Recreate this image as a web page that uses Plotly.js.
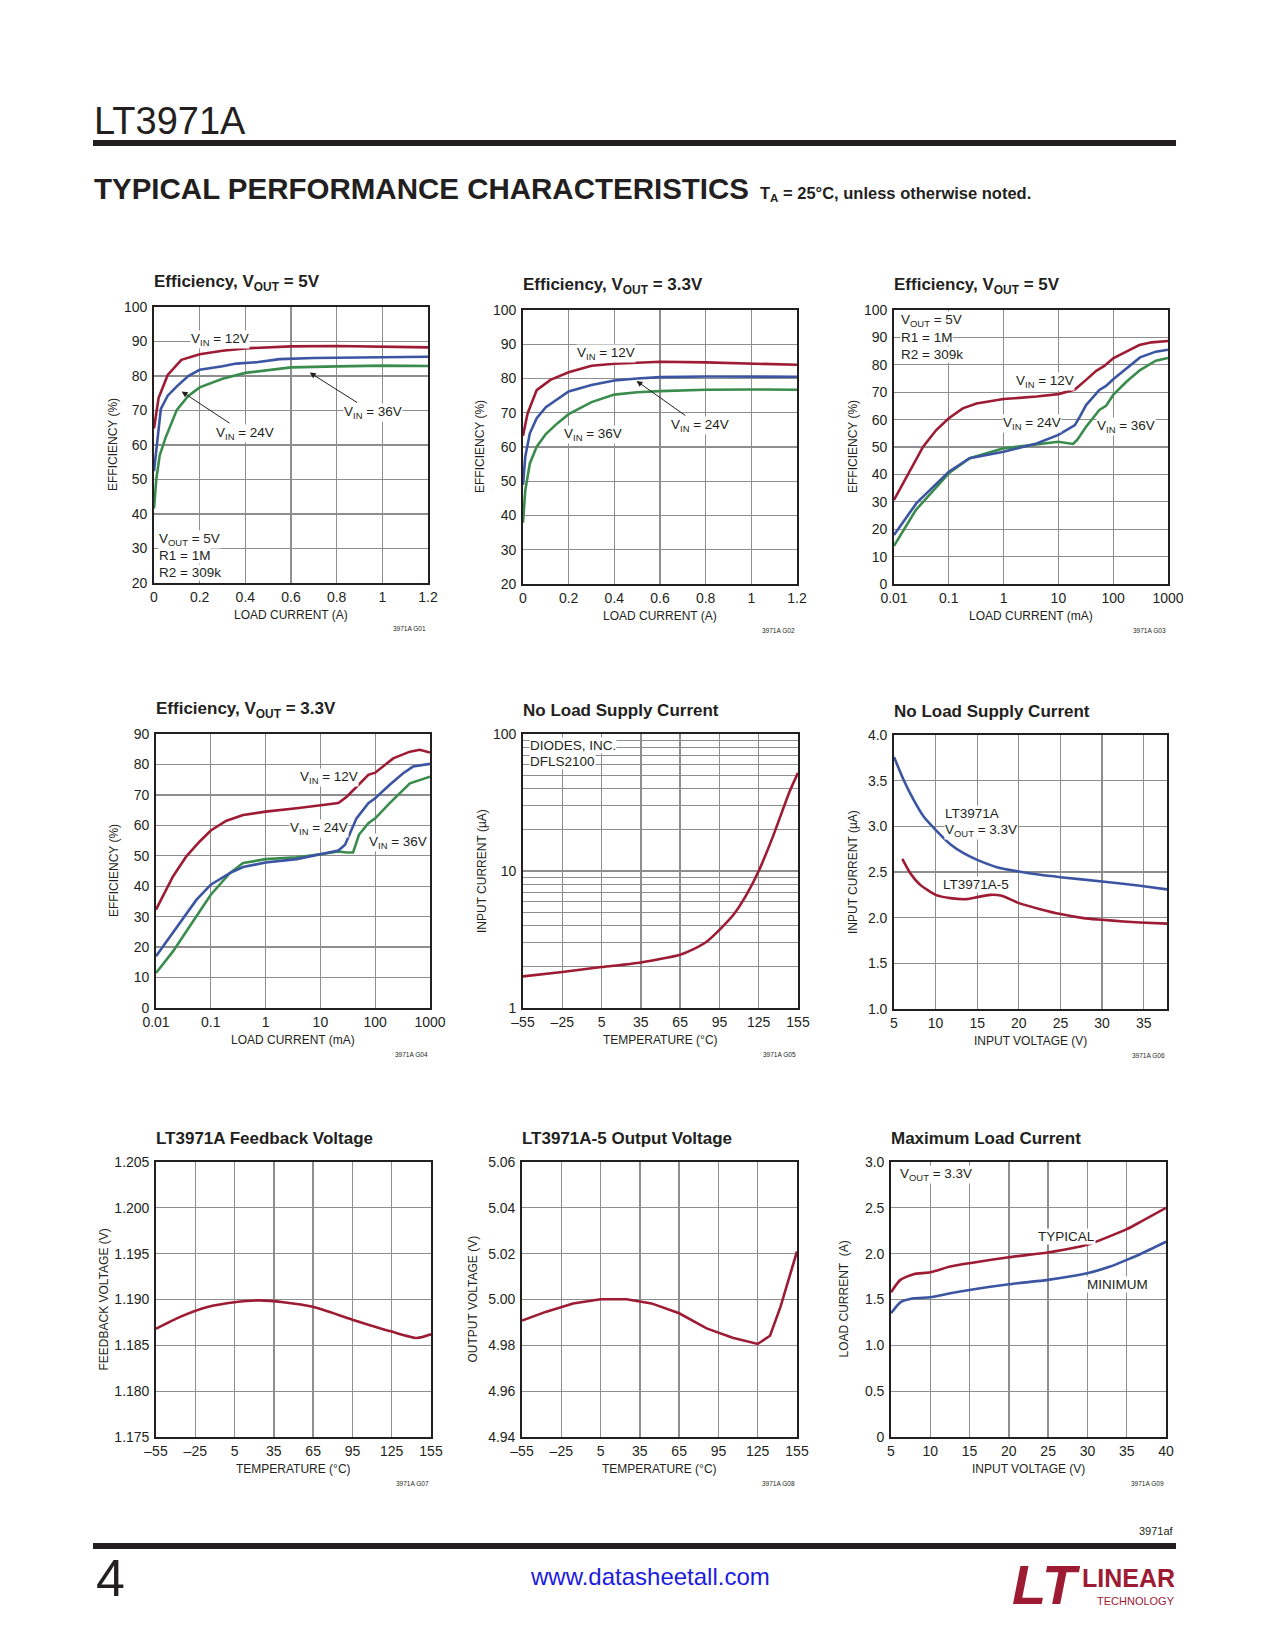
<!DOCTYPE html>
<html>
<head>
<meta charset="utf-8">
<script src="https://cdn.plot.ly/plotly-3.0.1.min.js"></script>
<style>html,body{margin:0;padding:0;background:#fff;}#page{width:1275px;height:1650px;}</style>
</head>
<body>
<div id="page"></div>
<script>
// ---------------- DATA ----------------
// Chart 1: Efficiency, VOUT = 5V (linear load current, A)
const c1_x_12 = [0, 0.02, 0.06, 0.12, 0.2, 0.3, 0.4, 0.6, 0.8, 1.0, 1.2];
const c1_y_12 = [64.8, 73.6, 80.3, 84.7, 86.3, 87.3, 88.0, 88.6, 88.7, 88.6, 88.3];
const c1_x_24 = [0, 0.015, 0.03, 0.06, 0.1, 0.15, 0.2, 0.3, 0.36, 0.45, 0.55, 0.7, 0.9, 1.2];
const c1_y_24 = [52.4, 62.4, 70.5, 74.3, 77.0, 80.0, 81.8, 82.8, 83.6, 84.0, 84.9, 85.2, 85.4, 85.6];
const c1_x_36 = [0, 0.01, 0.025, 0.05, 0.1, 0.15, 0.2, 0.3, 0.4, 0.5, 0.6, 0.8, 1.0, 1.2];
const c1_y_36 = [41.6, 50.0, 57.0, 62.0, 70.2, 74.2, 76.7, 79.2, 80.9, 81.8, 82.5, 82.8, 83.0, 82.9];

// Chart 2: Efficiency, VOUT = 3.3V
const c2_x_12 = [0, 0.02, 0.06, 0.12, 0.2, 0.3, 0.4, 0.6, 0.8, 1.0, 1.2];
const c2_y_12 = [63.3, 69.8, 76.6, 79.6, 81.8, 83.7, 84.3, 84.9, 84.7, 84.3, 84.0];
const c2_x_24 = [0, 0.01, 0.03, 0.06, 0.1, 0.2, 0.3, 0.4, 0.5, 0.6, 0.8, 1.0, 1.2];
const c2_y_24 = [48.9, 57.2, 64.0, 68.4, 71.6, 76.2, 78.1, 79.4, 80.0, 80.4, 80.6, 80.6, 80.5];
const c2_x_36 = [0, 0.01, 0.03, 0.06, 0.1, 0.15, 0.2, 0.3, 0.4, 0.5, 0.6, 0.8, 1.0, 1.2];
const c2_y_36 = [37.9, 47.4, 55.2, 60.1, 63.8, 66.9, 69.6, 73.1, 75.3, 76.0, 76.3, 76.7, 76.8, 76.7];

// Chart 3: Efficiency, VOUT = 5V (log load current, mA)
const c3_x_12 = [0.01, 0.017, 0.034, 0.059, 0.1, 0.18, 0.32, 1, 4, 10, 20, 32, 49, 69, 100, 150, 300, 500, 1000];
const c3_y_12 = [30.7, 39.2, 50.1, 56.2, 60.5, 64.1, 65.9, 67.5, 68.4, 69.3, 71.0, 74.5, 77.8, 79.6, 82.4, 84.2, 87.2, 88.2, 88.7];
const c3_x_24 = [0.01, 0.0255, 0.1, 0.24, 1, 4, 10, 20, 24.5, 32, 56, 74, 100, 174, 309, 600, 1000];
const c3_y_24 = [17.9, 29.4, 41.0, 45.9, 48.3, 51.3, 54.4, 58.0, 61.0, 65.3, 70.8, 72.3, 74.7, 78.7, 82.7, 84.8, 85.5];
const c3_x_36 = [0.01, 0.025, 0.1, 0.24, 1, 4, 10, 18.5, 22, 32, 56, 74, 100, 174, 309, 600, 1000];
const c3_y_36 = [13.9, 27.0, 40.4, 45.9, 49.5, 50.9, 51.9, 51.1, 52.6, 57.4, 63.5, 65.0, 69.0, 73.8, 78.1, 81.5, 82.5];

// Chart 4: Efficiency, VOUT = 3.3V (log load current, mA)
const c4_x_12 = [0.01, 0.0204, 0.0358, 0.0627, 0.1, 0.193, 0.389, 1, 3.68, 10, 21.3, 30.3, 49.4, 75, 100, 140, 213, 430, 650, 1000];
const c4_y_12 = [32.3, 43.2, 49.8, 54.7, 58.3, 61.5, 63.4, 64.5, 65.6, 66.5, 67.3, 69.4, 73.3, 76.6, 77.3, 79.5, 82.0, 84.2, 84.8, 83.9];
const c4_x_24 = [0.01, 0.027, 0.0545, 0.1, 0.222, 0.389, 1, 3.68, 10, 21.3, 28.2, 36.9, 45.5, 75, 100, 184, 324, 490, 1000];
const c4_y_24 = [17.0, 27.9, 35.5, 40.5, 44.3, 46.3, 47.8, 48.9, 50.5, 51.7, 53.6, 58.5, 62.3, 67.3, 68.9, 73.3, 77.1, 79.3, 80.2];
const c4_x_36 = [0.01, 0.0204, 0.041, 0.1, 0.222, 0.389, 1, 3.68, 10, 21.3, 30.3, 39.5, 50.5, 75, 100, 184, 430, 650, 1000];
const c4_y_36 = [11.5, 18.6, 26.8, 37.2, 44.3, 47.6, 48.9, 49.5, 50.5, 51.4, 51.1, 51.1, 56.9, 60.7, 62.3, 67.3, 73.8, 74.9, 76.0];

// Chart 5: No Load Supply Current vs temperature (log µA)
const c5_x = [-55, -25, 5, 35, 65, 75.2, 85.4, 95, 105.7, 115.6, 125, 135.9, 148.6, 155];
const c5_y = [1.70, 1.83, 1.99, 2.15, 2.45, 2.69, 3.06, 3.72, 4.79, 6.70, 10.0, 17.9, 38.0, 52.0];

// Chart 6: No Load Supply Current vs input voltage
const c6_x_a = [5, 6.16, 7.36, 8.56, 10, 11.76, 13.36, 15, 17.36, 20, 22.56, 25, 30, 34.56, 37.8];
const c6_y_a = [3.76, 3.508, 3.289, 3.107, 2.961, 2.804, 2.706, 2.633, 2.553, 2.505, 2.469, 2.443, 2.396, 2.349, 2.31];
const c6_x_5 = [6, 6.96, 8.16, 10, 11.76, 13.76, 15, 16.56, 17.96, 20, 22.56, 25, 27.76, 30, 32.56, 34.56, 37.8];
const c6_y_5 = [2.644, 2.487, 2.359, 2.25, 2.214, 2.203, 2.225, 2.25, 2.239, 2.159, 2.093, 2.039, 1.995, 1.977, 1.958, 1.947, 1.935];

// Chart 7: LT3971A Feedback Voltage
const c7_x = [-55, -36.6, -15, 5, 24.5, 42.4, 64.8, 95, 125, 144.3, 155];
const c7_y = [1.1868, 1.1881, 1.1892, 1.1897, 1.1899, 1.1897, 1.1892, 1.1878, 1.1865, 1.1858, 1.1862];

// Chart 8: LT3971A-5 Output Voltage
const c8_x = [-55, -36.4, -16, 5, 24.8, 43.9, 65, 86, 105.8, 125, 134.4, 142.5, 155];
const c8_y = [4.9908, 4.9947, 4.9983, 5.0001, 5.0001, 4.9983, 4.994, 4.9874, 4.9833, 4.9806, 4.9842, 4.997, 5.021];

// Chart 9: Maximum Load Current
const c9_x_typ = [5, 6.19, 7.88, 10, 12.54, 15, 20, 24.96, 29.96, 35, 36.7, 40];
const c9_y_typ = [1.579, 1.714, 1.776, 1.797, 1.859, 1.896, 1.961, 2.012, 2.096, 2.267, 2.344, 2.50];
const c9_x_min = [5, 6.19, 7.88, 10, 12.54, 15, 20, 24.96, 29.96, 32.9, 35, 36.7, 40];
const c9_y_min = [1.349, 1.469, 1.513, 1.524, 1.568, 1.604, 1.666, 1.714, 1.786, 1.859, 1.932, 1.994, 2.13];

// Tick values / labels
const effLinX = [0, 0.2, 0.4, 0.6, 0.8, 1, 1.2];
const effLinXText = ['0', '0.2', '0.4', '0.6', '0.8', '1', '1.2'];
const eff20_100 = [20, 30, 40, 50, 60, 70, 80, 90, 100];
const eff0_100 = [0, 10, 20, 30, 40, 50, 60, 70, 80, 90, 100];
const eff0_90 = [0, 10, 20, 30, 40, 50, 60, 70, 80, 90];
const logX = [0.01, 0.1, 1, 10, 100, 1000];
const logXText = ['0.01', '0.1', '1', '10', '100', '1000'];
const tempX = [-55, -25, 5, 35, 65, 95, 125, 155];
const tempXText = ['\u201355', '\u201325', '5', '35', '65', '95', '125', '155'];
const c5_yticks = [1, 10, 100];
const c5_ytext = ['1', '10', '100'];
const c5_yminor = [2, 3, 4, 5, 6, 7, 8, 9, 20, 30, 40, 50, 60, 70, 80, 90];
const c6_xticks = [5, 10, 15, 20, 25, 30, 35];
const c6_yticks = [1.0, 1.5, 2.0, 2.5, 3.0, 3.5, 4.0];
const c6_ytext = ['1.0', '1.5', '2.0', '2.5', '3.0', '3.5', '4.0'];
const c7_yticks = [1.175, 1.180, 1.185, 1.190, 1.195, 1.200, 1.205];
const c7_ytext = ['1.175', '1.180', '1.185', '1.190', '1.195', '1.200', '1.205'];
const c8_yticks = [4.94, 4.96, 4.98, 5.00, 5.02, 5.04, 5.06];
const c8_ytext = ['4.94', '4.96', '4.98', '5.00', '5.02', '5.04', '5.06'];
const c9_xticks = [5, 10, 15, 20, 25, 30, 35, 40];
const c9_yticks = [0, 0.5, 1.0, 1.5, 2.0, 2.5, 3.0];
const c9_ytext = ['0', '0.5', '1.0', '1.5', '2.0', '2.5', '3.0'];

// ---------------- STYLE / LAYOUT ----------------
const W = 1275, H = 1650;
const SANS = '"Liberation Sans", Arial, sans-serif';
const INK = '#231f20';
const RED = '#9e1b34', BLUE = '#3b55a3', GREEN = '#3a8c4c';
const GRID = '#8e8e8e';

// plot boxes in page pixels
const BOX = [
  {l:154, r:428, t:307, b:583},
  {l:523, r:797, t:310, b:584},
  {l:894, r:1168, t:310, b:584},
  {l:156, r:430, t:734, b:1008},
  {l:523, r:798, t:734, b:1008},
  {l:894, r:1167, t:735, b:1009},
  {l:156, r:431, t:1162, b:1437},
  {l:522, r:797, t:1162, b:1437},
  {l:891, r:1166, t:1162, b:1437}
];
const YT_OFF = [41, 43, 41, 42, 41, 41, 53, 50, 48];

const charts = [
  {title:'Efficiency, V<sub>OUT</sub> = 5V', xt:'LOAD CURRENT (A)', yt:'EFFICIENCY (%)', id:'3971A G01',
   xa:{type:'linear', range:[0,1.2], tickvals:effLinX, ticktext:effLinXText},
   ya:{type:'linear', range:[20,100], tickvals:eff20_100}},
  {title:'Efficiency, V<sub>OUT</sub> = 3.3V', xt:'LOAD CURRENT (A)', yt:'EFFICIENCY (%)', id:'3971A G02',
   xa:{type:'linear', range:[0,1.2], tickvals:effLinX, ticktext:effLinXText},
   ya:{type:'linear', range:[20,100], tickvals:eff20_100}},
  {title:'Efficiency, V<sub>OUT</sub> = 5V', xt:'LOAD CURRENT (mA)', yt:'EFFICIENCY (%)', id:'3971A G03',
   xa:{type:'log', range:[-2,3], tickvals:logX, ticktext:logXText},
   ya:{type:'linear', range:[0,100], tickvals:eff0_100}},
  {title:'Efficiency, V<sub>OUT</sub> = 3.3V', xt:'LOAD CURRENT (mA)', yt:'EFFICIENCY (%)', id:'3971A G04',
   xa:{type:'log', range:[-2,3], tickvals:logX, ticktext:logXText},
   ya:{type:'linear', range:[0,90], tickvals:eff0_90}},
  {title:'No Load Supply Current', xt:'TEMPERATURE (\u00B0C)', yt:'INPUT CURRENT (\u00B5A)', id:'3971A G05',
   xa:{type:'linear', range:[-55,155], tickvals:tempX, ticktext:tempXText},
   ya:{type:'log', range:[0,2], tickvals:c5_yticks, ticktext:c5_ytext,
       minor:{tickmode:'array', tickvals:c5_yminor, showgrid:true, gridcolor:GRID, gridwidth:1.2, ticks:''}}},
  {title:'No Load Supply Current', xt:'INPUT VOLTAGE (V)', yt:'INPUT CURRENT (\u00B5A)', id:'3971A G06',
   xa:{type:'linear', range:[5,37.8], tickvals:c6_xticks},
   ya:{type:'linear', range:[1,4], tickvals:c6_yticks, ticktext:c6_ytext}},
  {title:'LT3971A Feedback Voltage', xt:'TEMPERATURE (\u00B0C)', yt:'FEEDBACK VOLTAGE (V)', id:'3971A G07',
   xa:{type:'linear', range:[-55,155], tickvals:tempX, ticktext:tempXText},
   ya:{type:'linear', range:[1.175,1.205], tickvals:c7_yticks, ticktext:c7_ytext}},
  {title:'LT3971A-5 Output Voltage', xt:'TEMPERATURE (\u00B0C)', yt:'OUTPUT VOLTAGE (V)', id:'3971A G08',
   xa:{type:'linear', range:[-55,155], tickvals:tempX, ticktext:tempXText},
   ya:{type:'linear', range:[4.94,5.06], tickvals:c8_yticks, ticktext:c8_ytext}},
  {title:'Maximum Load Current', xt:'INPUT VOLTAGE (V)', yt:'LOAD CURRENT\u00A0\u00A0(A)', id:'3971A G09',
   xa:{type:'linear', range:[5,40], tickvals:c9_xticks},
   ya:{type:'linear', range:[0,3], tickvals:c9_yticks, ticktext:c9_ytext}}
];

const sfx = i => (i === 0 ? '' : String(i + 1));
const layout = {
  width: W, height: H, margin: {l:0, r:0, t:0, b:0},
  paper_bgcolor: '#fff', plot_bgcolor: '#fff', showlegend: false, hovermode: false,
  annotations: [], shapes: []
};
const axCommon = {
  showline: true, mirror: true, linecolor: INK, linewidth: 1.8,
  showgrid: true, gridcolor: GRID, gridwidth: 1.3, zeroline: false,
  ticks: '', fixedrange: true,
  tickfont: {family: SANS, size: 14, color: INK}
};

charts.forEach((c, i) => {
  const s = sfx(i), b = BOX[i];
  layout['xaxis' + s] = Object.assign({}, axCommon, c.xa, {
    domain: [b.l / W, b.r / W], anchor: 'y' + s, ticklabelstandoff: 0
  });
  layout['yaxis' + s] = Object.assign({}, axCommon, c.ya, {
    domain: [1 - b.b / H, 1 - b.t / H], anchor: 'x' + s, ticklabelstandoff: 2
  });
  const xr = 'x' + s + ' domain', yr = 'y' + s + ' domain';
  layout.annotations.push({xref: xr, yref: yr, x: 0, y: 1, xshift: -2, yshift: 24,
    xanchor: 'left', yanchor: 'middle', showarrow: false, text: c.title,
    font: {family: SANS, size: 17, color: INK, weight: 'bold'}});
  layout.annotations.push({xref: xr, yref: yr, x: 0.5, y: 0, yshift: -32,
    xanchor: 'center', yanchor: 'middle', showarrow: false, text: c.xt,
    font: {family: SANS, size: 12, color: INK}});
  layout.annotations.push({xref: xr, yref: yr, x: 0, y: 0.5, xshift: -YT_OFF[i],
    xanchor: 'center', yanchor: 'middle', textangle: -90, showarrow: false, text: c.yt,
    font: {family: SANS, size: 12, color: INK}});
  layout.annotations.push({xref: xr, yref: yr, x: 1, y: 0, yshift: -46,
    xanchor: 'right', yanchor: 'middle', showarrow: false, text: c.id,
    font: {family: SANS, size: 6.5, color: INK}});
});

// ---------------- TRACES ----------------
const traces = [];
function line(i, x, y, color, shape) {
  const s = sfx(i);
  traces.push({x: x, y: y, xaxis: 'x' + s, yaxis: 'y' + s, mode: 'lines', type: 'scatter',
    line: {color: color, width: 2.6, shape: shape || 'linear', smoothing: 0.6}});
}
line(0, c1_x_36, c1_y_36, GREEN); line(0, c1_x_24, c1_y_24, BLUE); line(0, c1_x_12, c1_y_12, RED);
line(1, c2_x_36, c2_y_36, GREEN); line(1, c2_x_24, c2_y_24, BLUE); line(1, c2_x_12, c2_y_12, RED);
line(2, c3_x_36, c3_y_36, GREEN); line(2, c3_x_24, c3_y_24, BLUE); line(2, c3_x_12, c3_y_12, RED);
line(3, c4_x_36, c4_y_36, GREEN); line(3, c4_x_24, c4_y_24, BLUE); line(3, c4_x_12, c4_y_12, RED);
line(4, c5_x, c5_y, RED, 'spline');
line(5, c6_x_a, c6_y_a, BLUE, 'spline'); line(5, c6_x_5, c6_y_5, RED, 'spline');
line(6, c7_x, c7_y, RED, 'spline');
line(7, c8_x, c8_y, RED);
line(8, c9_x_min, c9_y_min, BLUE, 'spline'); line(8, c9_x_typ, c9_y_typ, RED, 'spline');

// ---------------- IN-PLOT LABELS ----------------
const L = Math.log10;
const LABFONT = {family: SANS, size: 13.5, color: INK};
function lab(i, x, y, text, anchor) {
  const s = sfx(i);
  layout.annotations.push({xref: 'x' + s, yref: 'y' + s, x: x, y: y, text: text,
    showarrow: false, xanchor: anchor || 'left', yanchor: 'middle', align: 'left',
    bgcolor: '#fff', borderpad: 0, font: LABFONT});
}
function arrowLab(i, text, tx, ty, hx, hy) {
  const s = sfx(i);
  layout.annotations.push({xref: 'x' + s, yref: 'y' + s, axref: 'x' + s, ayref: 'y' + s,
    x: hx, y: hy, ax: tx, ay: ty, text: text, showarrow: true,
    arrowhead: 2, arrowsize: 1.2, arrowwidth: 1, arrowcolor: INK, standoff: 0, startstandoff: 2,
    bgcolor: '#fff', borderpad: 0, font: LABFONT});
}
const VIN = v => 'V<sub>IN</sub> = ' + v;
// chart 1
lab(0, 0.157, 90.6, VIN('12V'));
arrowLab(0, VIN('24V'), 0.398, 63.4, 0.121, 75.5);
arrowLab(0, VIN('36V'), 0.959, 69.4, 0.682, 81.0);
lab(0, 0.019, 32.5, 'V<sub>OUT</sub> = 5V');
lab(0, 0.019, 28.1, 'R1 = 1M');
lab(0, 0.019, 23.1, 'R2 = 309k');
// chart 2
lab(1, 0.232, 87.3, VIN('12V'));
lab(1, 0.176, 63.7, VIN('36V'));
arrowLab(1, VIN('24V'), 0.774, 66.2, 0.497, 79.3);
// chart 3
lab(2, L(0.0127), 96.0, 'V<sub>OUT</sub> = 5V');
lab(2, L(0.0127), 89.9, 'R1 = 1M');
lab(2, L(0.0127), 83.8, 'R2 = 309k');
lab(2, L(1.59), 74.0, VIN('12V'));
lab(2, L(0.93), 58.4, VIN('24V'));
lab(2, L(48), 57.4, VIN('36V'));
// chart 4
lab(3, L(4.03), 75.8, VIN('12V'));
lab(3, L(2.7), 59.1, VIN('24V'));
lab(3, L(74.3), 54.5, VIN('36V'));
// chart 5
lab(4, -50.7, L(83), 'DIODES, INC.');
lab(4, -50.7, L(62.8), 'DFLS2100');
// chart 6
lab(5, 11.04, 3.143, 'LT3971A');
lab(5, 11.04, 2.954, 'V<sub>OUT</sub> = 3.3V');
lab(5, 10.76, 2.36, 'LT3971A-5');
// chart 9
lab(8, 5.97, 2.86, 'V<sub>OUT</sub> = 3.3V');
lab(8, 23.56, 2.187, 'TYPICAL');
lab(8, 29.79, 1.66, 'MINIMUM');

// ---------------- PAGE HEADER / FOOTER ----------------
const PX = x => x / W, PY = y => 1 - y / H;
function ptxt(x, y, text, font, anchor) {
  layout.annotations.push({xref: 'paper', yref: 'paper', x: PX(x), y: PY(y), text: text,
    showarrow: false, xanchor: anchor || 'left', yanchor: 'middle', font: font});
}
ptxt(92, 121, 'LT3971A', {family: SANS, size: 38, color: INK});
layout.shapes.push({type: 'rect', xref: 'paper', yref: 'paper', x0: PX(93), x1: PX(1176),
  y0: PY(146), y1: PY(140), fillcolor: INK, line: {width: 0}});
ptxt(92, 189, 'TYPICAL PERFORMANCE CHARACTERISTICS', {family: SANS, size: 29.5, color: INK, weight: 'bold'});
ptxt(758, 194, 'T<sub>A</sub> = 25\u00B0C, unless otherwise noted.', {family: SANS, size: 16.5, color: INK, weight: 'bold'});

ptxt(1176, 1531, '3971af', {family: SANS, size: 11, color: INK}, 'right');
layout.shapes.push({type: 'rect', xref: 'paper', yref: 'paper', x0: PX(93), x1: PX(1176),
  y0: PY(1549), y1: PY(1543), fillcolor: INK, line: {width: 0}});
ptxt(94, 1578, '4', {family: SANS, size: 52, color: INK});
ptxt(650, 1576, 'www.datasheetall.com', {family: SANS, size: 24, color: '#1c1ce0'}, 'center');
// logo
ptxt(1010, 1584, '<i><b>LT</b></i>', {family: SANS, size: 56, color: RED});
ptxt(1177, 1578, '<b>LINEAR</b>', {family: SANS, size: 25, color: RED}, 'right');
ptxt(1177, 1601, 'TECHNOLOGY', {family: SANS, size: 11, color: RED}, 'right');

Plotly.newPlot('page', traces, layout, {staticPlot: true, displayModeBar: false});
</script>
</body>
</html>
